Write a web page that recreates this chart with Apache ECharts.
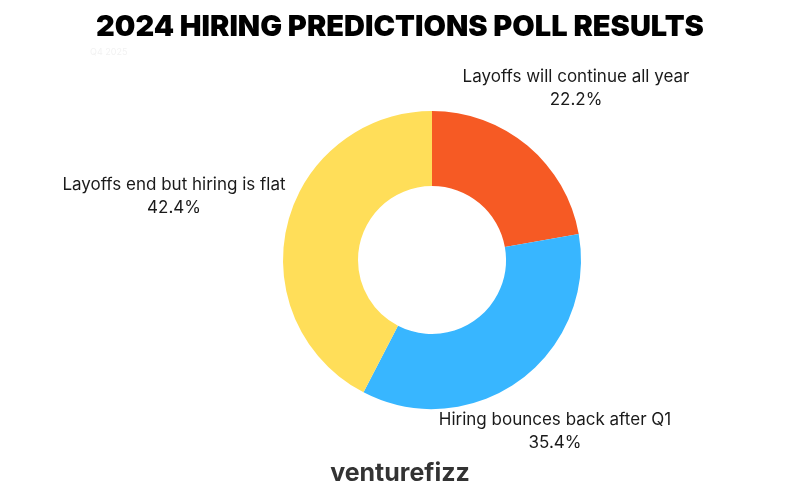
<!DOCTYPE html>
<html>
<head>
<meta charset="utf-8">
<script src="https://cdn.jsdelivr.net/npm/echarts@6/dist/echarts.min.js"></script>
<style>
html,body{margin:0;padding:0;background:#fff;}
#chart{width:800px;height:492px;}
</style>
</head>
<body>
<div id="chart"></div>
<script>
const categories = ["Layoffs will continue all year", "Hiring bounces back after Q1", "Layoffs end but hiring is flat"];
const values = [22.2, 35.4, 42.4];
const colors = ["#F65A24", "#38B6FF", "#FFDE59"];
const labelPos = [[576, 88], [555, 431], [174, 196]];

const chart = echarts.init(document.getElementById('chart'), null, {renderer: 'canvas'});
chart.setOption({
  backgroundColor: '#ffffff',
  animation: false,
  title: [{
    text: '2024 HIRING PREDICTIONS POLL RESULTS',
    left: 'center', top: 8,
    textStyle: {fontFamily: 'Inter', fontWeight: 900, fontSize: 29, color: '#000'}
  }, {
    text: 'Q4 2025',
    left: 85, top: 43,
    textStyle: {fontFamily: 'Inter', fontWeight: 400, fontSize: 9, color: '#f2f2f2'}
  }, {
    text: 'venturefizz',
    left: 'center', top: 456,
    textStyle: {fontFamily: 'Inter', fontWeight: 700, fontSize: 25, color: '#333333'}
  }],
  series: [{
    type: 'pie',
    center: [432, 260],
    radius: [74, 149],
    startAngle: 90,
    clockwise: true,
    data: categories.map((c, i) => ({name: c, value: values[i], itemStyle: {color: colors[i]}})),
    label: {
      show: true,
      position: 'outside',
      overflow: 'none',
      formatter: p => p.name + '\n' + p.value.toFixed(1) + '%',
      fontFamily: 'Inter', fontSize: 17, color: '#1a1a1a', lineHeight: 23, align: 'center'
    },
    labelLine: {show: false},
    labelLayout: function (params) {
      const pos = labelPos[params.dataIndex];
      return {x: pos[0], y: pos[1], align: 'center', verticalAlign: 'middle'};
    },
    emphasis: {disabled: true}
  }]
});
</script>
</body>
</html>
